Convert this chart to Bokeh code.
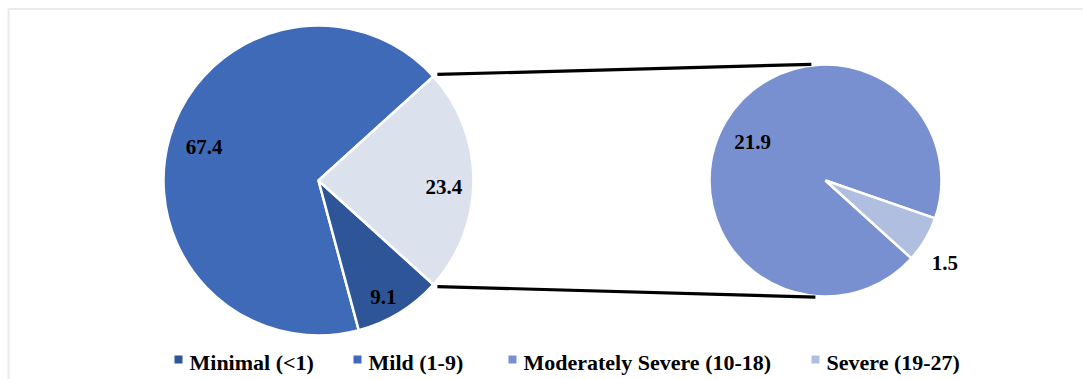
import math
from bokeh.plotting import figure
from bokeh.models import Range1d
from bokeh.core.properties import value
from bokeh.embed import file_html
from bokeh.resources import INLINE

# PHQ-9 depression severity shares (%)
main_labels = ["Mild (1-9)", "Minimal (<1)", "Other"]
main_values = [67.4, 9.1, 23.4]
main_colors = ["#3F6AB7", "#2E5597", "#DCE1EE"]

sub_labels = ["Moderately Severe (10-18)", "Severe (19-27)"]
sub_values = [21.9, 1.5]
sub_colors = ["#7890CF", "#B0BEE0"]

legend_labels = ["Minimal (<1)", "Mild (1-9)", "Moderately Severe (10-18)", "Severe (19-27)"]
legend_colors = ["#2E5597", "#3F6AB7", "#7890CF", "#B0BEE0"]

W, H = 1083, 379
FONT = "Liberation Serif"

p = figure(width=W, height=H, output_backend="svg", toolbar_location=None,
           x_range=Range1d(0, W), y_range=Range1d(0, H), min_border=0)
p.axis.visible = False
p.grid.visible = False
p.outline_line_color = None
p.background_fill_color = "white"
p.border_fill_color = "white"

# light chart frame
p.quad(left=[8], right=[W + 20], top=[H - 8.5], bottom=[-20],
       fill_color=None, line_color="#EBEBEB", line_width=2)

# main pie: "Other" slice centred on the right-hand axis
c1x, c1y, r1 = 318, 199, 155
total = sum(main_values)
other_span = main_values[2] / total * 2 * math.pi
other_start = -other_span / 2
other_end = other_span / 2
minimal_span = main_values[1] / total * 2 * math.pi
minimal_start = other_start - minimal_span
starts = [other_end, minimal_start, other_start]
ends = [minimal_start + 2 * math.pi, other_start, other_end]
p.wedge(x=[c1x] * 3, y=[c1y] * 3, radius=r1, start_angle=starts, end_angle=ends,
        fill_color=main_colors, line_color="white", line_width=2.5)

# secondary pie breaking down the "Other" slice
c2x, c2y, r2 = 825, 199, 116
sub_total = sum(sub_values)
sev_span = sub_values[1] / sub_total * 2 * math.pi
sev_start = other_start
sev_end = sev_start + sev_span
p.wedge(x=[c2x] * 2, y=[c2y] * 2, radius=r2,
        start_angle=[sev_end, sev_start], end_angle=[sev_start + 2 * math.pi, sev_end],
        fill_color=sub_colors, line_color="white", line_width=2.5)

# connector lines
top_a = (c1x + r1 * math.cos(other_end) + 4, c1y + r1 * math.sin(other_end) + 2)
bot_a = (c1x + r1 * math.cos(other_start) + 4, c1y + r1 * math.sin(other_start) - 2)
top_b = (c2x + r2 * math.cos(math.radians(97)), c2y + r2 * math.sin(math.radians(97)) + 1)
bot_b = (c2x + r2 * math.cos(math.radians(265)), c2y + r2 * math.sin(math.radians(265)) - 1)
p.segment(x0=[top_a[0], bot_a[0]], y0=[top_a[1], bot_a[1]],
          x1=[top_b[0], bot_b[0]], y1=[top_b[1], bot_b[1]],
          line_color="black", line_width=3.2)

# data labels
def mid(a, b):
    return (a + b) / 2

main_mids = [mid(other_end, minimal_start + 2 * math.pi), mid(minimal_start, other_start) - 0.04,
             mid(other_start, other_end) - 0.05]
main_fr = [0.77, 0.86, 0.81]
lx = [c1x + f * r1 * math.cos(a) for f, a in zip(main_fr, main_mids)]
ly = [c1y + f * r1 * math.sin(a) for f, a in zip(main_fr, main_mids)]
p.text(x=lx, y=ly, text=[f"{v:.1f}" for v in main_values], text_font=value(FONT),
       text_font_style="bold", text_font_size="21px", text_color="black",
       text_align="center", text_baseline="middle")

sub_mids = [mid(sev_end, sev_start + 2 * math.pi) + 0.05, mid(sev_start, sev_end) - 0.07]
sub_fr = [0.71, 1.25]
sx = [c2x + f * r2 * math.cos(a) for f, a in zip(sub_fr, sub_mids)]
sy = [c2y + f * r2 * math.sin(a) for f, a in zip(sub_fr, sub_mids)]
p.text(x=sx, y=sy, text=[f"{v:.1f}" for v in sub_values], text_font=value(FONT),
       text_font_style="bold", text_font_size="21px", text_color="black",
       text_align="center", text_baseline="middle")

# legend row
leg_x = [178, 357, 512, 815]
leg_y = 17
p.rect(x=leg_x, y=[leg_y + 3] * 4, width=8, height=8, fill_color=legend_colors, line_color=None)
p.text(x=[x + 11 for x in leg_x], y=[leg_y] * 4, text=legend_labels, text_font=value(FONT),
       text_font_style="bold", text_font_size="22px", text_color="black",
       text_align="left", text_baseline="middle")

open("out.html", "w").write(file_html(p, INLINE))
